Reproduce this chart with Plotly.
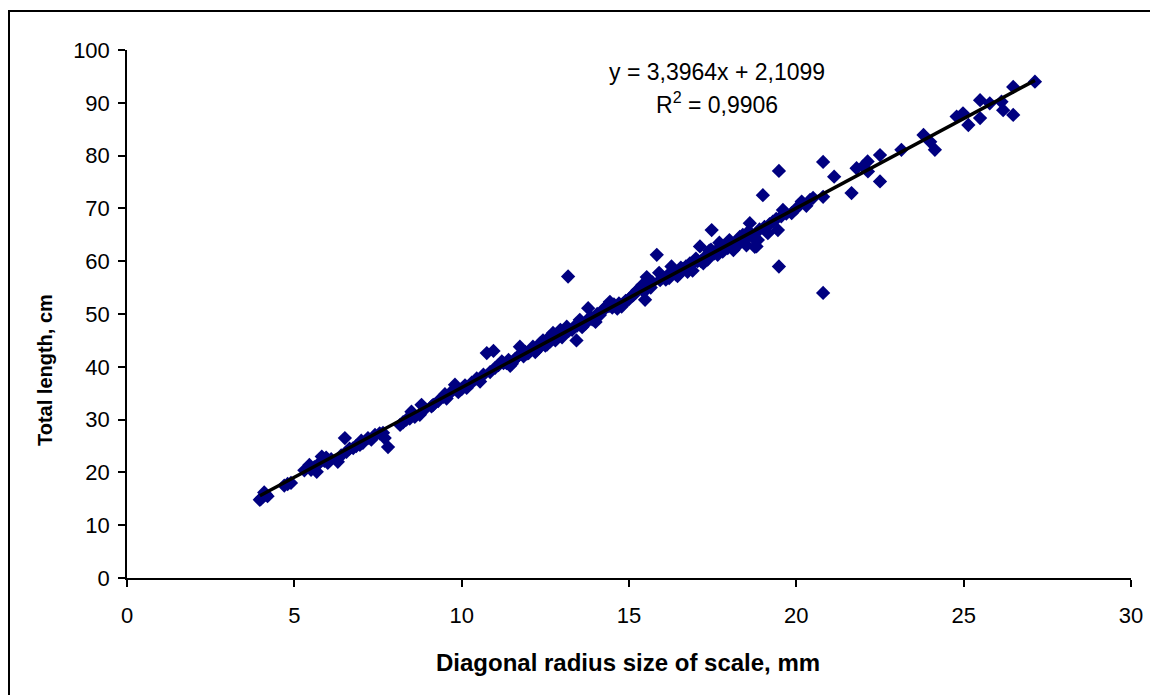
import plotly.graph_objects as go
import numpy as np

# Diagonal radius size of scale (mm) and total length (cm)
radius_mm = [
    3.97, 4.0, 4.05, 4.1, 4.15, 4.2, 4.7, 4.8, 4.9, 5.3, 5.45, 5.5, 5.6, 5.67, 5.75, 5.82, 5.9, 6.0, 6.1, 6.3,
    6.4, 6.51, 6.56, 6.65, 6.76, 6.85, 6.96, 7.05, 7.2, 7.3, 7.41, 7.55, 7.65, 7.7, 7.8, 8.16, 8.25, 8.35, 8.5, 8.6,
    8.75, 8.8, 8.9, 9.15, 9.3, 9.45, 9.55, 9.65, 9.8, 9.9, 10.0, 10.15, 10.3, 10.55, 10.65, 10.75, 10.85, 10.95, 11.0, 11.1,
    11.25, 11.34, 11.4, 11.5, 11.6, 11.74, 11.85, 11.95, 12.05, 12.13, 12.2, 12.3, 12.43, 12.5, 12.6, 12.73, 12.85, 12.95, 13.05, 13.14,
    13.18, 13.3, 13.43, 13.53, 13.6, 13.7, 13.78, 13.9, 14.0, 14.13, 14.25, 14.35, 14.43, 14.55, 14.65, 14.78, 14.9, 15.0, 15.13, 15.25,
    15.35, 15.48, 15.53, 15.6, 15.7, 15.83, 15.93, 16.0, 16.1, 16.27, 16.32, 16.4, 16.52, 16.6, 16.7, 16.82, 16.9, 17.0, 17.12, 17.22,
    17.3, 17.4, 17.47, 17.55, 17.62, 17.7, 17.8, 17.9, 18.0, 18.12, 18.2, 18.31, 18.4, 18.51, 18.61, 18.7, 18.76, 18.81, 18.9, 19.0,
    19.05, 19.15, 19.3, 19.45, 19.48, 19.48, 19.55, 19.6, 19.7, 19.86, 20.0, 20.16, 20.3, 20.41, 20.5, 20.8, 20.8, 20.8, 21.13, 21.65,
    21.8, 22.0, 22.13, 22.14, 22.5, 22.5, 23.14, 23.8, 24.0, 24.14, 24.79, 24.98, 25.14, 25.49, 25.49, 25.78, 26.13, 26.18, 26.48, 26.48,
    27.13,
    12.0, 12.35, 12.65, 12.9, 13.2, 13.45, 13.85, 14.05, 14.5, 14.85, 15.1, 15.45, 16.15, 16.45, 16.75, 17.05, 17.35, 17.65, 17.95, 18.25,
    18.45, 18.65, 11.45, 11.2, 10.45, 9.1, 8.45,
    12.25, 12.55, 12.8, 13.0, 13.35, 13.65, 13.95, 14.2, 14.4, 14.7, 15.2, 15.4, 15.65, 15.9, 16.2, 16.55, 16.85, 17.15, 17.45, 17.75,
    18.05, 18.35, 18.55, 18.85, 19.2, 19.4, 11.65, 11.9, 10.1, 9.5, 7.0, 5.95,
]
total_length_cm = [
    14.8, 15.0, 15.3, 16.2, 15.8, 15.5, 17.5, 17.8, 18.0, 20.4, 21.4, 20.5, 21.0, 20.1, 21.8, 23.0, 22.2, 21.8, 22.5, 22.0,
    23.2, 26.5, 23.9, 24.5, 24.6, 25.0, 25.2, 25.6, 26.5, 26.2, 27.1, 27.4, 27.5, 26.5, 24.8, 29.0, 29.5, 30.0, 31.5, 30.5,
    30.9, 32.8, 32.0, 32.8, 33.5, 34.3, 34.0, 35.0, 36.6, 35.2, 35.8, 36.0, 37.0, 37.2, 38.5, 42.6, 39.0, 43.0, 39.8, 40.3,
    40.7, 40.7, 41.3, 40.6, 41.5, 43.8, 42.0, 42.5, 43.0, 43.8, 42.8, 43.5, 45.0, 44.0, 45.5, 46.4, 46.0, 47.0, 46.5, 47.6,
    57.1, 47.0, 45.0, 48.9, 47.5, 48.2, 51.1, 49.0, 48.5, 49.8, 51.0, 51.5, 52.3, 51.8, 51.0, 51.4, 52.5, 52.8, 53.6, 54.5,
    55.0, 52.7, 57.0, 55.5, 56.0, 61.2, 56.4, 57.0, 56.5, 59.0, 58.0, 57.5, 57.7, 58.5, 59.0, 59.6, 58.2, 60.5, 62.8, 59.6,
    61.0, 62.0, 65.9, 61.5, 62.1, 63.5, 61.8, 63.0, 64.0, 62.1, 63.5, 64.6, 65.0, 63.0, 67.2, 64.5, 62.7, 62.8, 66.0, 72.5,
    66.5, 65.3, 67.5, 65.9, 77.1, 59.0, 68.5, 69.7, 69.0, 69.1, 70.0, 71.3, 70.5, 71.6, 72.0, 72.2, 78.8, 54.0, 76.0, 72.9,
    77.6, 78.0, 78.9, 77.0, 80.1, 75.1, 81.1, 83.9, 82.6, 81.1, 87.4, 88.0, 85.8, 90.5, 87.1, 89.9, 90.2, 88.6, 93.0, 87.7,
    94.0,
    42.6, 44.5, 44.8, 46.2, 46.8, 47.8, 49.5, 50.0, 51.2, 52.0, 53.5, 54.2, 57.3, 57.2, 58.0, 60.0, 60.3, 61.2, 62.5, 63.0,
    64.0, 65.2, 40.2, 41.0, 37.8, 32.5, 30.2,
    43.2, 44.2, 45.0, 45.6, 47.5, 48.0, 49.0, 50.5, 51.5, 52.0, 54.0, 55.5, 55.0, 57.8, 56.8, 58.8, 59.2, 60.0, 62.2, 62.6,
    63.2, 64.2, 65.5, 64.0, 67.0, 68.0, 41.8, 42.8, 36.5, 34.8, 26.0, 22.8,
]

# Linear trend shown on the chart
slope = 3.3964
intercept = 2.1099
equation_text = "y = 3,3964x + 2,1099"
r2_text = "R<sup>2</sup> = 0,9906"

x_ticks = [0, 5, 10, 15, 20, 25, 30]
y_ticks = [0, 10, 20, 30, 40, 50, 60, 70, 80, 90, 100]

font_family = "Liberation Sans, Arial, sans-serif"

trend_x = np.array([min(radius_mm), max(radius_mm)])
trend_y = slope * trend_x + intercept

fig = go.Figure()
fig.add_trace(go.Scatter(
    x=radius_mm, y=total_length_cm, mode="markers",
    marker=dict(symbol="diamond", size=11, color="#000080", line=dict(width=0)),
    showlegend=False, hoverinfo="x+y",
))
fig.add_trace(go.Scatter(
    x=trend_x, y=trend_y, mode="lines",
    line=dict(color="black", width=3.5),
    showlegend=False, hoverinfo="skip",
))

L, R, T, B = 127, 19, 50, 117
W, H = 1150, 695
pw, ph = W - L - R, H - T - B

def px_to_paper_x(px):
    return (px - L) / pw

def px_to_paper_y(py):
    return (H - B - py) / ph

fig.update_layout(
    width=W, height=H,
    margin=dict(l=L, r=R, t=T, b=B, pad=0, autoexpand=False),
    paper_bgcolor="white", plot_bgcolor="white",
    font=dict(family=font_family, color="black", size=22),
    xaxis=dict(
        range=[0, 30], tickvals=x_ticks, ticktext=[str(v) for v in x_ticks],
        showgrid=False, zeroline=False, showline=True, linecolor="black", linewidth=1.5,
        ticks="outside", ticklen=7, tickwidth=1.5, tickcolor="black",
        tickfont=dict(family=font_family, size=22, color="black"),
        ticklabelstandoff=10,
    ),
    yaxis=dict(
        range=[0, 100], tickvals=y_ticks, ticktext=[str(v) for v in y_ticks],
        showgrid=False, zeroline=False, showline=True, linecolor="black", linewidth=1.5,
        ticks="outside", ticklen=7, tickwidth=1.5, tickcolor="black",
        tickfont=dict(family=font_family, size=22, color="black"),
        ticklabelstandoff=4,
    ),
    annotations=[
        dict(text="<b>Diagonal radius size of scale, mm</b>", xref="paper", yref="paper",
             x=px_to_paper_x(628), y=px_to_paper_y(662), showarrow=False,
             xanchor="center", yanchor="middle", font=dict(size=24, family=font_family)),
        dict(text="<b>Total length, cm</b>", xref="paper", yref="paper",
             x=px_to_paper_x(45), y=px_to_paper_y(370), showarrow=False, textangle=-90,
             xanchor="center", yanchor="middle", font=dict(size=20, family=font_family)),
        dict(text=equation_text, xref="paper", yref="paper",
             x=px_to_paper_x(717), y=px_to_paper_y(72), showarrow=False,
             xanchor="center", yanchor="middle", font=dict(size=23, family=font_family)),
        dict(text=r2_text, xref="paper", yref="paper",
             x=px_to_paper_x(717), y=px_to_paper_y(103), showarrow=False,
             xanchor="center", yanchor="middle", font=dict(size=23, family=font_family)),
    ],
    shapes=[
        dict(type="rect", xref="paper", yref="paper",
             x0=px_to_paper_x(9), x1=px_to_paper_x(1160),
             y0=px_to_paper_y(710), y1=px_to_paper_y(11),
             line=dict(color="black", width=2), fillcolor="rgba(0,0,0,0)", layer="above"),
    ],
)

fig.write_html("out.html")
